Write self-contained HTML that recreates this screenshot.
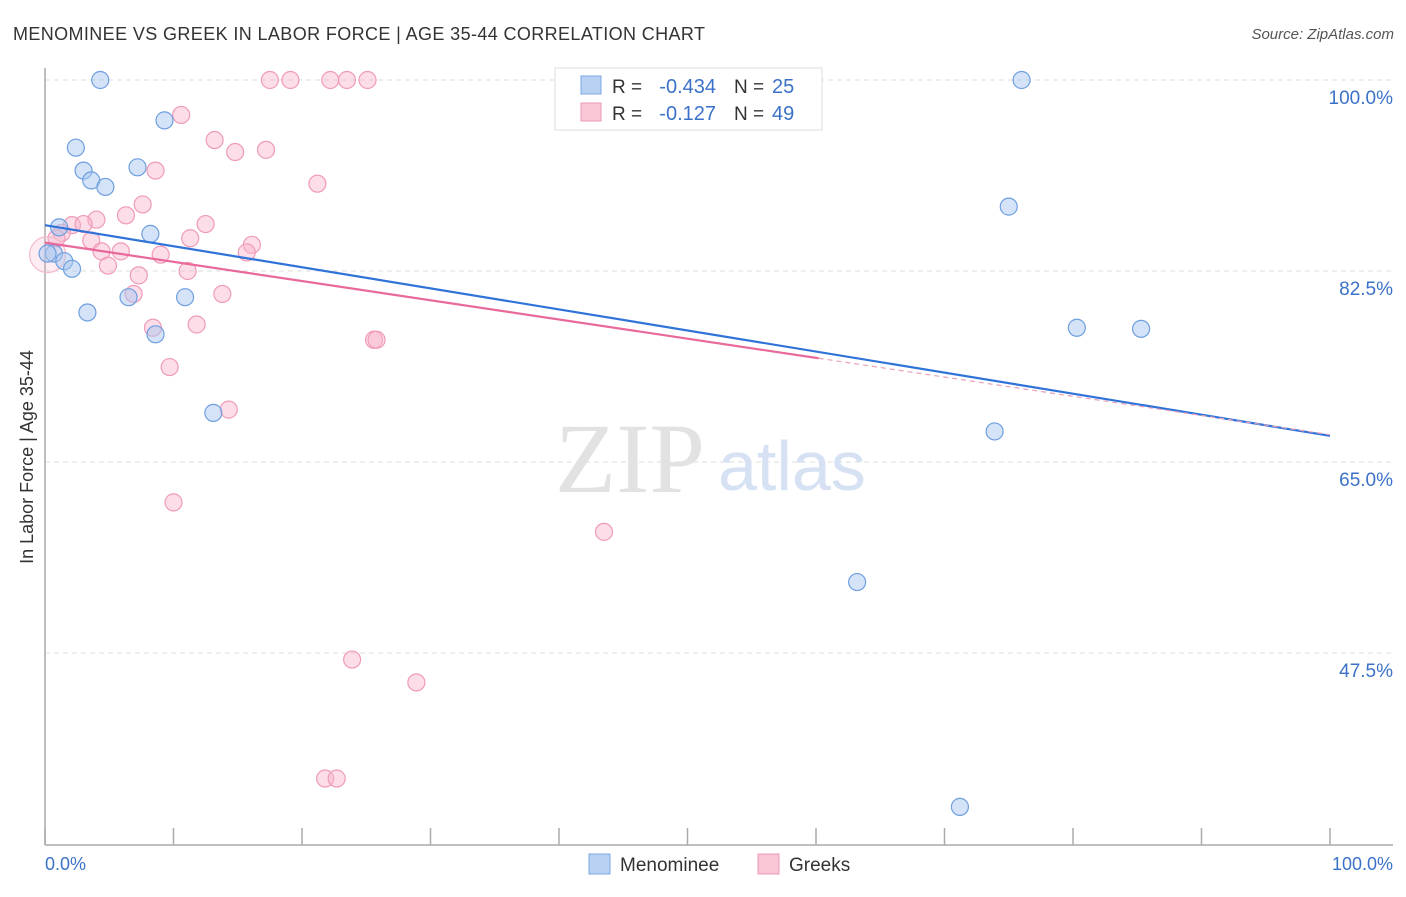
<!DOCTYPE html>
<html><head><meta charset="utf-8"><style>
body{margin:0;background:#fff;font-family:"Liberation Sans",sans-serif;}
</style></head><body>
<svg width="1406" height="892" xmlns="http://www.w3.org/2000/svg">
<text x="13" y="40" font-size="18" fill="#333" textLength="692">MENOMINEE VS GREEK IN LABOR FORCE | AGE 35-44 CORRELATION CHART</text>
<text x="1394" y="39" font-size="15" fill="#555" font-style="italic" text-anchor="end">Source: ZipAtlas.com</text>
<g id="grid"></g>
<text x="555" y="492" font-size="100" fill="#e2e2e2" font-family="Liberation Serif,serif">ZIP</text>
<text x="718" y="490" font-size="70" fill="#d6e2f3">atlas</text>
<line x1="45" y1="68" x2="45" y2="845" stroke="#aaa" stroke-width="1.5"/>
<line x1="45" y1="845" x2="1393" y2="845" stroke="#aaa" stroke-width="1.5"/>
<g id="ticks"></g>
<g id="pts"></g>
<g id="lines"></g>
<text x="33" y="457" font-size="18" fill="#333" text-anchor="middle" transform="rotate(-90 33 457)">In Labor Force | Age 35-44</text>
<text x="45" y="870" font-size="18" fill="#3b72c8">0.0%</text>
<text x="1393" y="870" font-size="18" fill="#3b72c8" text-anchor="end">100.0%</text>
<g>
<rect x="555" y="68" width="267" height="62" fill="#fff" stroke="#ddd"/>
<rect x="581" y="76" width="20" height="18" fill="#b8d1f3" stroke="#7aa6e3"/>
<rect x="581" y="103" width="20" height="18" fill="#f9c6d6" stroke="#ee9ab5"/>
<text x="612" y="93" font-size="19" fill="#333">R =</text>
<text x="716" y="93" font-size="20" fill="#3b72c8" text-anchor="end">-0.434</text>
<text x="734" y="93" font-size="19" fill="#333">N =</text>
<text x="772" y="93" font-size="20" fill="#3b72c8">25</text>
<text x="612" y="120" font-size="19" fill="#333">R =</text>
<text x="716" y="120" font-size="20" fill="#3b72c8" text-anchor="end">-0.127</text>
<text x="734" y="120" font-size="19" fill="#333">N =</text>
<text x="772" y="120" font-size="20" fill="#3b72c8">49</text>
</g>
<g>
<rect x="589" y="854" width="21" height="20" fill="#b8d1f3" stroke="#7aa6e3"/>
<text x="620" y="871" font-size="19" fill="#333">Menominee</text>
<rect x="758" y="854" width="21" height="20" fill="#f9c6d6" stroke="#ee9ab5"/>
<text x="789" y="871" font-size="19" fill="#333">Greeks</text>
</g>
</svg>
<script>
const yTicks=[100,82.5,65,47.5];
const yTickLabels=["100.0%","82.5%","65.0%","47.5%"];
const menomineeX=[4.3,76.0,9.3,2.4,3.0,7.2,3.6,4.7,75.0,1.1,8.2,0.7,1.5,2.1,3.3,6.5,10.9,8.6,80.3,85.3,13.1,73.9,63.2,71.2,0.2];
const menomineeY=[100,100,96.3,93.8,91.7,92.0,90.8,90.2,88.4,86.5,85.9,84.1,83.4,82.7,78.7,80.1,80.1,76.7,77.3,77.2,69.5,67.8,54.0,33.4,84.1];
const greeksX=[17.5,19.1,22.2,23.5,25.1,10.6,41.4,51.6,13.2,14.8,17.2,8.6,21.2,7.6,6.3,4.0,12.5,2.1,3.0,1.3,0.9,3.6,11.3,16.1,15.7,4.4,5.9,9.0,4.9,7.3,11.1,6.9,13.8,8.4,11.8,25.6,25.8,9.7,14.3,10.0,43.5,23.9,28.9,21.8,22.7,0.2];
const greeksY=[100,100,100,100,100,96.8,100,100,94.5,93.4,93.6,91.7,90.5,88.6,87.6,87.2,86.8,86.7,86.8,86.0,85.5,85.3,85.5,84.9,84.2,84.3,84.3,84.0,83.0,82.1,82.5,80.4,80.4,77.3,77.6,76.2,76.2,73.7,69.8,61.3,58.6,46.9,44.8,36.0,36.0,84.0];
const X0=45,X1=1330,Y100=80,PPU=191/17.5;
const sx=v=>X0+(X1-X0)*v/100, sy=v=>Y100+(100-v)*PPU;
const NS="http://www.w3.org/2000/svg";
function mk(t,a,p){const e=document.createElementNS(NS,t);for(const k in a)e.setAttribute(k,a[k]);p.appendChild(e);return e;}
const grid=document.getElementById('grid');
yTicks.forEach((v,i)=>{
 const l=mk('line',{x1:45,x2:1393,y1:sy(v),y2:sy(v),stroke:'#ddd','stroke-dasharray':'5,4'},grid);
 
 
 const t=mk('text',{x:1393,y:sy(v)+24,'font-size':19,fill:'#3b72c8','text-anchor':'end'},grid);
 t.textContent=yTickLabels[i];
 
 
});
const ticks=document.getElementById('ticks');
for(let i=0;i<=10;i++){
 const l=mk('line',{x1:sx(i*10),x2:sx(i*10),y1:845,y2:828,stroke:'#aaa','stroke-width':1.5},ticks);
 
 
}
const pts=document.getElementById('pts');
greeksX.forEach((x,i)=>{
 const big=i==greeksX.length-1;
 const c=mk('circle',{cx:sx(x),cy:sy(greeksY[i]),r:big?18:8.5,fill:big?'rgba(248,180,203,0.25)':'rgba(248,180,203,0.45)',stroke:big?'#f3bccd':'#ef9bb6','stroke-width':1.2},pts);
 
 
});
menomineeX.forEach((x,i)=>{
 const c=mk('circle',{cx:sx(x),cy:sy(menomineeY[i]),r:8.5,fill:'rgba(170,200,240,0.5)',stroke:'#6f9fe0','stroke-width':1.2},pts);
 
 
});
const lines=document.getElementById('lines');
const blueTrend=[86.7,67.4], pinkTrend=[85.1,67.5], pinkSolidEnd=60.2;
let l=mk('line',{x1:sx(0),y1:sy(blueTrend[0]),x2:sx(100),y2:sy(blueTrend[1]),stroke:'#2f73d9','stroke-width':2.2},lines);


const pyAt=v=>pinkTrend[0]+(pinkTrend[1]-pinkTrend[0])*v/100;
l=mk('line',{x1:sx(0),y1:sy(pinkTrend[0]),x2:sx(pinkSolidEnd),y2:sy(pyAt(pinkSolidEnd)),stroke:'#e8699a','stroke-width':2.2},lines);


l=mk('line',{x1:sx(pinkSolidEnd),y1:sy(pyAt(pinkSolidEnd)),x2:sx(100),y2:sy(pinkTrend[1]),stroke:'#e8a0bb','stroke-width':1.2,'stroke-dasharray':'5,4'},lines);


</script>
</body></html>
